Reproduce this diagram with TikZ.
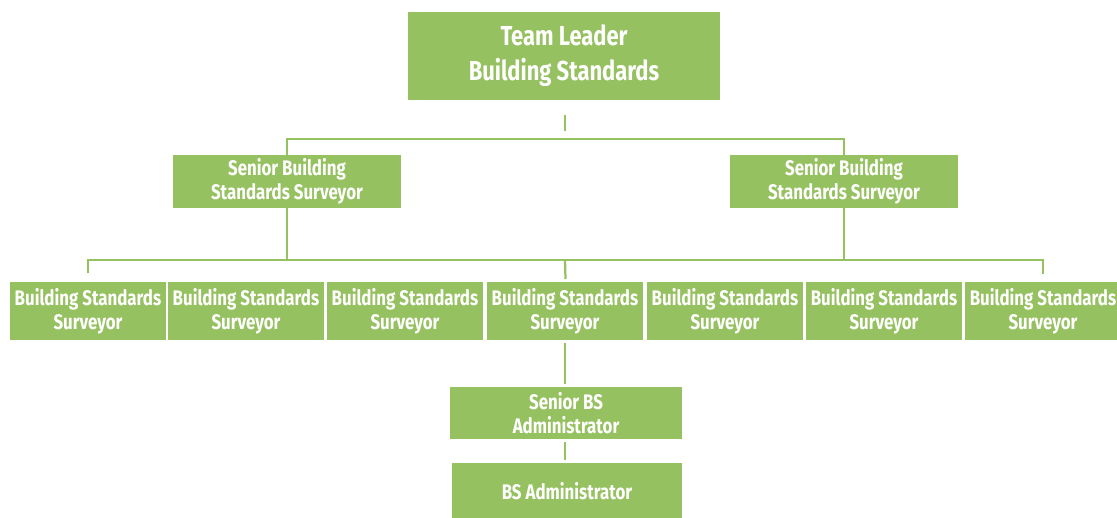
\documentclass[tikz,border=0pt]{standalone}
\usepackage{fontspec}
\newfontfamily\chartfont[FakeStretch=0.8]{Fira Sans}
\usepackage{tikz}
\usetikzlibrary{positioning}
\definecolor{leafgreen}{RGB}{150,193,96}

\tikzset{
  post/.style={fill=leafgreen, text=white, align=center, inner sep=0pt,
    font=\chartfont\bfseries\fontsize{15}{17}\selectfont},
  link/.style={draw=leafgreen, line width=1.6pt},
}

\begin{document}
\begin{tikzpicture}[x=0.025cm, y=-0.025cm]
    \useasboundingbox (0,0) rectangle (1117,518);

    % head of the team
    \node(lead)[post, minimum width=7.8cm, minimum height=2.2cm,
      font=\chartfont\bfseries\fontsize{19.5}{25}\selectfont] at (564,56)
      {Team Leader\\Building Standards};

    % seniors
    \node(srL)[post, minimum width=5.7cm, minimum height=1.33cm] at (287,181.5)
      {Senior Building\\Standards Surveyor};
    \node(srR)[post, minimum width=5.7cm, minimum height=1.33cm] at (844,181.5)
      {Senior Building\\Standards Surveyor};

    % surveyors
    \foreach \i/\xx in {1/88, 2/246, 3/405, 4/565, 5/725, 6/884, 7/1043}
      \node(sv\i)[post, minimum width=3.88cm, minimum height=1.45cm] at (\xx,311)
        {Building Standards\\Surveyor};

    % admin
    \node(sadm)[post, minimum width=5.78cm, minimum height=1.3cm] at (566,413)
      {Senior BS\\Administrator};
    \node(adm)[post, minimum width=5.75cm, minimum height=1.4cm] at (567,491)
      {BS Administrator};

    % connectors
    \coordinate(tA) at (565,115);
    \coordinate(tB) at (565,131);
    \coordinate(busTop) at (565,139);
    \coordinate(busLow) at (565,260);
    \draw[link] (tA) -- (tB);
    \draw[link] (srL.north) |- (busTop) -| (srR.north);
    \draw[link] (srL.south) |- (busLow);
    \draw[link] (srR.south) |- (busLow);
    \coordinate(s1) at (88,273);
    \coordinate(s4) at (565.5,279);
    \coordinate(s7) at (1043,274);
    \draw[link] (s1) |- (busLow) -| (s7);
    \draw[link] (busLow) -- (s4);
    \draw[link] ([yshift=-0.07cm]sv4.south) -- ([yshift=0.08cm]sv4.south |- sadm.north);
    \draw[link] ([yshift=-0.08cm]sv4.south |- sadm.south) -- ([yshift=0.08cm]sv4.south |- adm.north);
\end{tikzpicture}
\end{document}
